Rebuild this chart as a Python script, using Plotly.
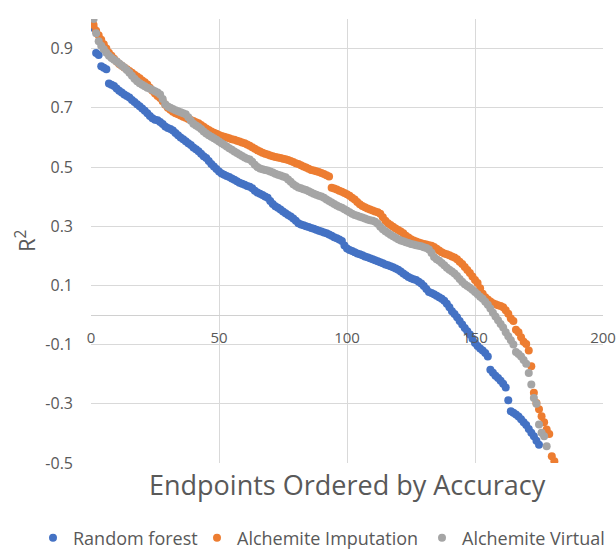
import plotly.graph_objects as go

# R^2 per endpoint, each series sorted from most to least accurate
random_forest = [
    0.970, 0.885, 0.878, 0.840, 0.835, 0.830, 0.782, 0.778, 0.774, 0.765,
    0.758, 0.752, 0.745, 0.740, 0.735, 0.726, 0.720, 0.712, 0.705, 0.698,
    0.690, 0.682, 0.672, 0.665, 0.660, 0.658, 0.652, 0.645, 0.637, 0.632,
    0.628, 0.623, 0.615, 0.607, 0.600, 0.594, 0.587, 0.580, 0.574, 0.566,
    0.560, 0.553, 0.545, 0.536, 0.530, 0.520, 0.510, 0.502, 0.493, 0.485,
    0.478, 0.474, 0.470, 0.466, 0.461, 0.457, 0.452, 0.447, 0.443, 0.440,
    0.436, 0.433, 0.428, 0.420, 0.414, 0.410, 0.405, 0.400, 0.396, 0.385,
    0.375, 0.367, 0.362, 0.356, 0.350, 0.344, 0.338, 0.333, 0.326, 0.318,
    0.310, 0.306, 0.303, 0.300, 0.297, 0.294, 0.291, 0.288, 0.285, 0.282,
    0.279, 0.276, 0.272, 0.268, 0.263, 0.259, 0.255, 0.250, 0.235, 0.225,
    0.220, 0.216, 0.212, 0.208, 0.205, 0.202, 0.198, 0.195, 0.192, 0.188,
    0.185, 0.182, 0.178, 0.175, 0.171, 0.168, 0.165, 0.161, 0.157, 0.153,
    0.147, 0.140, 0.134, 0.128, 0.124, 0.121, 0.118, 0.112, 0.106, 0.098,
    0.088, 0.078, 0.074, 0.070, 0.065, 0.060, 0.055, 0.048, 0.038, 0.026,
    0.013, 0.003, -0.008, -0.020, -0.032, -0.044, -0.055, -0.066, -0.080, -0.095,
    -0.105, -0.113, -0.120, -0.128, -0.140, -0.185, -0.195, -0.205, -0.213, -0.222,
    -0.232, -0.245, -0.288, -0.325, -0.330, -0.336, -0.343, -0.352, -0.362, -0.372,
    -0.385, -0.398, -0.410, -0.425, -0.438,
]

alchemite_imputation = [
    0.980, 0.960, 0.945, 0.930, 0.915, 0.900, 0.886, 0.876, 0.866, 0.856,
    0.848, 0.842, 0.836, 0.830, 0.824, 0.818, 0.812, 0.806, 0.800, 0.792,
    0.786, 0.779, 0.768, 0.758, 0.748, 0.740, 0.733, 0.722, 0.710, 0.700,
    0.693, 0.687, 0.682, 0.678, 0.674, 0.670, 0.666, 0.662, 0.659, 0.655,
    0.651, 0.648, 0.642, 0.636, 0.630, 0.625, 0.620, 0.616, 0.612, 0.608,
    0.605, 0.602, 0.600, 0.597, 0.594, 0.592, 0.589, 0.586, 0.583, 0.580,
    0.576, 0.572, 0.567, 0.562, 0.557, 0.552, 0.548, 0.545, 0.542, 0.539,
    0.536, 0.534, 0.532, 0.530, 0.528, 0.526, 0.524, 0.520, 0.517, 0.513,
    0.510, 0.506, 0.502, 0.498, 0.494, 0.490, 0.488, 0.486, 0.483, 0.480,
    0.476, 0.472, 0.468, 0.430, 0.427, 0.424, 0.420, 0.416, 0.412, 0.408,
    0.403, 0.396, 0.390, 0.382, 0.374, 0.368, 0.364, 0.360, 0.356, 0.353,
    0.350, 0.347, 0.342, 0.330, 0.318, 0.310, 0.304, 0.298, 0.292, 0.287,
    0.282, 0.276, 0.268, 0.262, 0.256, 0.252, 0.248, 0.245, 0.242, 0.240,
    0.238, 0.236, 0.234, 0.230, 0.224, 0.218, 0.212, 0.208, 0.205, 0.202,
    0.198, 0.194, 0.188, 0.180, 0.172, 0.162, 0.152, 0.142, 0.130, 0.118,
    0.108, 0.090, 0.072, 0.060, 0.052, 0.046, 0.040, 0.036, 0.033, 0.030,
    0.026, 0.016, 0.004, -0.012, -0.020, -0.050, -0.058, -0.075, -0.090, -0.098,
    -0.120, -0.173, -0.263, -0.297, -0.318, -0.342, -0.362, -0.387, -0.402, -0.477,
    -0.494,
]

alchemite_virtual = [
    1.000, 0.952, 0.925, 0.910, 0.898, 0.886, 0.876, 0.868, 0.862, 0.856,
    0.850, 0.843, 0.836, 0.828, 0.818, 0.808, 0.798, 0.790, 0.783, 0.778,
    0.773, 0.768, 0.764, 0.760, 0.756, 0.752, 0.745, 0.730, 0.712, 0.704,
    0.700, 0.696, 0.692, 0.688, 0.685, 0.682, 0.678, 0.668, 0.656, 0.646,
    0.640, 0.635, 0.628, 0.620, 0.613, 0.607, 0.602, 0.597, 0.592, 0.586,
    0.580, 0.575, 0.569, 0.563, 0.558, 0.552, 0.547, 0.542, 0.537, 0.532,
    0.528, 0.525, 0.518, 0.508, 0.500, 0.495, 0.492, 0.490, 0.488, 0.485,
    0.481, 0.477, 0.474, 0.471, 0.468, 0.465, 0.458, 0.450, 0.442, 0.436,
    0.431, 0.428, 0.425, 0.422, 0.418, 0.414, 0.410, 0.406, 0.403, 0.400,
    0.396, 0.390, 0.385, 0.380, 0.375, 0.370, 0.366, 0.362, 0.357, 0.352,
    0.347, 0.342, 0.338, 0.335, 0.332, 0.329, 0.326, 0.323, 0.320, 0.318,
    0.315, 0.308, 0.298, 0.290, 0.283, 0.277, 0.271, 0.266, 0.261, 0.256,
    0.252, 0.249, 0.246, 0.243, 0.240, 0.238, 0.236, 0.234, 0.232, 0.229,
    0.226, 0.221, 0.210, 0.196, 0.188, 0.183, 0.176, 0.168, 0.160, 0.153,
    0.147, 0.140, 0.132, 0.122, 0.112, 0.104, 0.098, 0.092, 0.085, 0.078,
    0.070, 0.062, 0.055, 0.045, 0.035, 0.022, 0.008, -0.005, -0.018, -0.030,
    -0.042, -0.058, -0.072, -0.085, -0.100, -0.125, -0.132, -0.140, -0.152, -0.165,
    -0.196, -0.235, -0.280, -0.300, -0.370, -0.398, -0.410, -0.443,
]

series = [
    ("Random forest", random_forest, "#4472C4"),
    ("Alchemite Imputation", alchemite_imputation, "#ED7D31"),
    ("Alchemite Virtual", alchemite_virtual, "#A5A5A5"),
]

x_ticks = [0, 50, 100, 150, 200]
y_ticks = [-0.5, -0.3, -0.1, 0.1, 0.3, 0.5, 0.7, 0.9]
y_labels = ["-0.5", "-0.3", "-0.1", "0.1", "0.3", "0.5", "0.7", "0.9"]

FONT = "Open Sans"
TEXT = "#595959"
GRID = "#d9d9d9"
W, H = 616, 549
M_L, M_R, M_T, M_B = 91, 13, 19, 86
PLOT_W, PLOT_H = W - M_L - M_R, H - M_T - M_B


def paper_x(px):
    return (px - M_L) / PLOT_W


def paper_y(py):
    return (H - M_B - py) / PLOT_H


# one legend per series so the entries sit in a single row along the bottom
legend_left_px = [33, 197, 422]
legend_names = ["legend", "legend2", "legend3"]

fig = go.Figure()
for (name, values, color), lg in zip(series, legend_names):
    fig.add_trace(go.Scatter(
        x=list(range(1, len(values) + 1)),
        y=values,
        mode="markers",
        name=name,
        legend=lg,
        marker=dict(color=color, size=8, line=dict(width=0)),
    ))

legend_style = dict(
    orientation="h",
    xref="container", yref="container",
    xanchor="left", yanchor="middle",
    y=1 - 538 / H,
    font=dict(size=18, color=TEXT, family=FONT),
    itemwidth=30,
    bgcolor="rgba(0,0,0,0)",
)
for lg, left in zip(legend_names, legend_left_px):
    fig.update_layout({lg: dict(legend_style, x=left / W)})

fig.update_layout(
    width=W,
    height=H,
    margin=dict(l=M_L, r=M_R, t=M_T, b=M_B, autoexpand=False),
    paper_bgcolor="white",
    plot_bgcolor="white",
    font=dict(family=FONT, color=TEXT),
    showlegend=True,
    xaxis=dict(
        range=[0, 200],
        tickvals=x_ticks,
        showgrid=True,
        gridcolor=GRID,
        gridwidth=1,
        zeroline=False,
        showline=False,
        anchor="free",
        position=1 / 3,
        ticks="",
        ticklabelstandoff=12,
        automargin=False,
        tickfont=dict(size=15, color=TEXT, family=FONT),
    ),
    yaxis=dict(
        range=[-0.5, 1.0],
        tickvals=y_ticks,
        ticktext=y_labels,
        showgrid=True,
        gridcolor=GRID,
        gridwidth=1,
        zeroline=True,
        zerolinecolor="#d0d0d0",
        zerolinewidth=1,
        showline=False,
        ticks="",
        ticklabelstandoff=17,
        automargin=False,
        tickfont=dict(size=16, color=TEXT, family=FONT),
    ),
    annotations=[
        dict(
            text="Endpoints Ordered by Accuracy",
            xref="paper", yref="paper",
            x=0.5, y=paper_y(484),
            xanchor="center", yanchor="middle",
            showarrow=False,
            font=dict(size=27, color=TEXT, family=FONT),
        ),
        dict(
            text="R<sup>2</sup>",
            xref="paper", yref="paper",
            x=paper_x(25), y=0.5,
            xanchor="center", yanchor="middle",
            textangle=-90,
            showarrow=False,
            font=dict(size=22, color=TEXT, family=FONT),
        ),
    ],
)

fig.write_html("out.html")
